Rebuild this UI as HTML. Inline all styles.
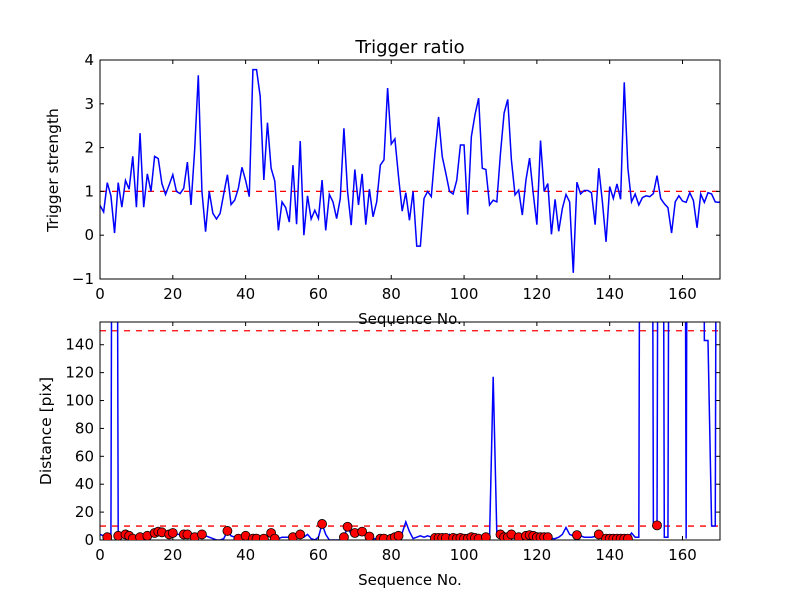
<!DOCTYPE html>
<html><head><meta charset="utf-8">
<style>
html,body{margin:0;padding:0;background:#fff;}
svg text{font-family:"DejaVu Sans","Liberation Sans",sans-serif;fill:#000;}
</style></head>
<body>
<svg id="fig" width="800" height="600" viewBox="0 0 800 600" xmlns="http://www.w3.org/2000/svg">
<rect width="800" height="600" fill="#fff"/>
<defs>
<clipPath id="c1"><rect x="100" y="60" width="620" height="219"/></clipPath>
<clipPath id="c2"><rect x="100" y="322" width="620" height="218"/></clipPath>
</defs>
<text x="410" y="53" font-size="18" text-anchor="middle">Trigger ratio</text>
<g id="top"></g>
<g id="bot"></g>
</svg>
<script>
const triggerRatio = [0.68,0.53,1.2,0.9,0.05,1.2,0.64,1.25,1.05,1.8,0.64,2.33,0.64,1.4,1.0,1.8,1.75,1.18,0.93,1.15,1.38,1.0,0.95,1.07,1.67,0.69,1.95,3.65,1.0,0.08,1.0,0.5,0.37,0.5,0.95,1.38,0.7,0.8,1.07,1.55,1.25,0.88,3.78,3.78,3.17,1.26,2.57,1.53,1.24,0.11,0.76,0.63,0.3,1.6,0.25,2.15,0.0,0.9,0.37,0.57,0.38,1.26,0.11,0.93,0.76,0.38,0.84,2.44,1.0,0.23,1.5,0.69,1.4,0.24,1.05,0.42,0.76,1.6,1.72,3.36,2.08,2.2,1.34,0.55,0.97,0.34,1.0,-0.25,-0.25,0.84,1.0,0.88,1.87,2.7,1.8,1.41,1.0,0.94,1.26,2.06,2.06,0.47,2.25,2.75,3.13,1.53,1.5,0.69,0.8,0.76,1.87,2.79,3.1,1.72,0.92,1.03,0.46,1.26,1.76,0.95,0.24,2.16,1.0,1.18,0.02,0.82,0.09,0.61,0.93,0.76,-0.86,1.21,0.94,1.02,1.02,0.97,0.24,1.53,0.76,-0.15,1.11,0.84,1.17,0.82,3.49,1.53,0.76,0.94,0.69,0.86,0.9,0.88,0.95,1.36,0.84,0.72,0.63,0.05,0.76,0.9,0.78,0.75,0.97,0.79,0.17,0.94,0.75,0.97,0.94,0.76,0.75,0.8];
const distance = [4,3,2,1,1000,3,2,4,3,1,2,2,2,3,3,5,6,5.5,4,4,5,4,4,4,4,2,2,3,4,3,2,1,0,0,1,6.5,3,2,1,1,3,1,1,1,1,1,2,5,1,1,2,2,2,2,3,4,2,4,1,0,2,11.5,4,0,0,0,0,2,9.5,4,5,4,6,4,2.5,1,1,1,1,1,1,2,3,5,13,6,1,2,3,2,3,2,1.5,1.5,1.5,1.5,4,1.5,1,1.5,1,1,2,1.5,1,2,2,1,117,4,4,2,2,4,2,2,3,3,3.5,3,2,2,2,2,1,1,2,4,9,4,3,3.5,3,2,2,2,2.5,4,3,1,1,1,1,1,1,1,5,2,2,1000,1000,1000,12,10.5,1000,2,2,1000,1000,1000,1000,1,1000,1000,1000,1000,143,143,10,10,1000,0];
const dotIndices = [2,5,7,8,9,11,13,15,16,17,19,20,23,24,26,28,35,38,40,42,43,45,47,48,53,55,61,67,68,70,72,74,77,78,80,81,82,92,93,94,95,97,98,99,100,101,102,103,104,106,110,111,112,113,115,117,118,119,120,121,122,123,131,137,139,140,141,142,143,144,145,153];
const xTicks = [0,20,40,60,80,100,120,140,160];
const topYTicks = [-1,0,1,2,3,4];
const botYTicks = [0,20,40,60,80,100,120,140];
const topThreshold = [1];
const botThresholds = [10,150];

const NS='http://www.w3.org/2000/svg';
const X0=100,X1=720,XMIN=0,XMAX=170.3;
const sx=v=>X0+(v-XMIN)/(XMAX-XMIN)*(X1-X0);
function mk(tag,attrs,parent){const e=document.createElementNS(NS,tag);for(const k in attrs)e.setAttribute(k,attrs[k]);parent.appendChild(e);return e;}

function panel(g,Y0,Y1,ymin,ymax,yticks,values,thr,clipId){
  const sy=v=>Y1-(v-ymin)/(ymax-ymin)*(Y1-Y0);
  thr.forEach(t=>{
    const l=mk('line',{x1:X0,x2:X1,y1:sy(t),y2:sy(t),stroke:'#f00','stroke-width':1.3,'stroke-dasharray':'6,6','clip-path':'url(#'+clipId+')'},g);
    
    
  });
  const pts=values.map((v,i)=>sx(i).toFixed(2)+','+sy(v).toFixed(2)).join(' ');
  const pl=mk('polyline',{points:pts,fill:'none',stroke:'#00f','stroke-width':1.5,'clip-path':'url(#'+clipId+')'},g);
  
  
  const fr=mk('rect',{x:X0,y:Y0,width:X1-X0,height:Y1-Y0,fill:'none',stroke:'#000','stroke-width':1},g);
  
  
  xTicks.forEach(t=>{
    const x=sx(t);
    mk('line',{x1:x,x2:x,y1:Y1,y2:Y1-4,stroke:'#000'},g);
    mk('line',{x1:x,x2:x,y1:Y0,y2:Y0+4,stroke:'#000'},g);
    const tx=mk('text',{x:x,y:Y1+20,'font-size':15,'text-anchor':'middle'},g);
    tx.textContent=t;
    
    
  });
  yticks.forEach(t=>{
    const y=sy(t);
    mk('line',{x1:X0,x2:X0+4,y1:y,y2:y,stroke:'#000'},g);
    mk('line',{x1:X1,x2:X1-4,y1:y,y2:y,stroke:'#000'},g);
    const tx=mk('text',{x:X0-6,y:y+5,'font-size':15,'text-anchor':'end'},g);
    tx.textContent=t<0?'\u2212'+Math.abs(t):t;
    
    
  });
  const xl=mk('text',{x:410,y:Y1+45,'font-size':15,'text-anchor':'middle'},g);
  xl.textContent='Sequence No.';
  
  
  return sy;
}

const gTop=document.getElementById('top');
panel(gTop,60,279,-1,4,topYTicks,triggerRatio,topThreshold,'c1');
const ylT=mk('text',{x:0,y:0,'font-size':15.5,'text-anchor':'middle',transform:'translate(58,170) rotate(-90)'},gTop);
ylT.textContent='Trigger strength';



const gBot=document.getElementById('bot');
const syB=panel(gBot,322,540,0,156.3,botYTicks,distance,botThresholds,'c2');
const ylB=mk('text',{x:0,y:0,'font-size':15.5,'text-anchor':'middle',transform:'translate(51,431) rotate(-90)'},gBot);
ylB.textContent='Distance [pix]';



const gd=mk('g',{'clip-path':'url(#c2)'},gBot);
dotIndices.forEach(i=>{
  const c=mk('circle',{cx:sx(i),cy:syB(distance[i]),r:4.5,fill:'#f00',stroke:'#000','stroke-width':0.8},gd);
  
  
});
</script>
</body></html>
